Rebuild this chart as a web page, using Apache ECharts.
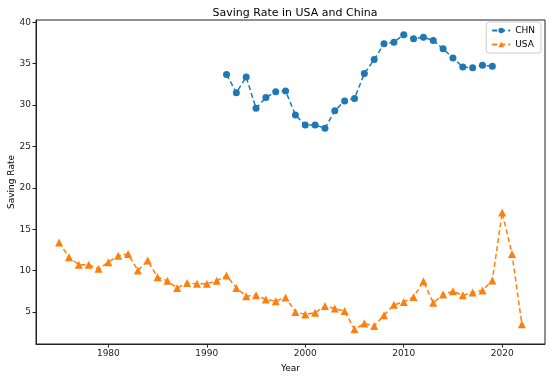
<!DOCTYPE html>
<html><head><meta charset="utf-8">
<script src="https://cdn.jsdelivr.net/npm/echarts@6/dist/echarts.min.js"></script>
<style>html,body{margin:0;padding:0;background:#fff}#c{width:550px;height:376px}</style>
</head><body><div id="c"></div>
<script>
const chnYears = [1992,1993,1994,1995,1996,1997,1998,1999,2000,2001,2002,2003,2004,2005,2006,2007,2008,2009,2010,2011,2012,2013,2014,2015,2016,2017,2018,2019];
const chnValues = [33.7,31.5,33.4,29.6,30.9,31.6,31.7,28.8,27.6,27.6,27.2,29.3,30.5,30.8,33.8,35.5,37.4,37.6,38.5,38.0,38.2,37.8,36.8,35.7,34.6,34.5,34.8,34.7];
const usaYears = [1975,1976,1977,1978,1979,1980,1981,1982,1983,1984,1985,1986,1987,1988,1989,1990,1991,1992,1993,1994,1995,1996,1997,1998,1999,2000,2001,2002,2003,2004,2005,2006,2007,2008,2009,2010,2011,2012,2013,2014,2015,2016,2017,2018,2019,2020,2021,2022];
const usaValues = [13.4,11.6,10.7,10.7,10.2,11.0,11.8,12.0,10.0,11.2,9.2,8.75,7.9,8.5,8.4,8.4,8.75,9.4,7.9,6.9,7.0,6.5,6.3,6.75,5.0,4.7,4.9,5.7,5.4,5.1,2.9,3.6,3.3,4.6,5.85,6.2,6.8,8.7,6.1,7.1,7.5,7.0,7.35,7.6,8.8,17.0,12.0,3.5];
const xTicks = [1980,1990,2000,2010,2020];
const yTicks = [5,10,15,20,25,30,35,40];

const font = 'DejaVu Sans';
const chart = echarts.init(document.getElementById('c'), null, {renderer:'canvas'});
chart.setOption({
  animation:false,
  title:{text:'Saving Rate in USA and China', left:290, textAlign:'center', top:3,
    textStyle:{fontFamily:font, fontSize:11, fontWeight:'normal', color:'#000'}},
  grid:{left:36, right:5, top:20, bottom:32, outerBoundsMode:'none', containLabel:false,
    show:true, borderColor:'#222', borderWidth:1, backgroundColor:'transparent'},
  legend:{right:9, top:22, orient:'vertical', itemWidth:18, itemHeight:7, itemGap:5,
    borderColor:'#ccc', borderWidth:1, borderRadius:3, padding:[4,6,4,5],
    textStyle:{fontFamily:font, fontSize:9, color:'#000'},
    data:['CHN','USA']},
  xAxis:{type:'value', min:1972.65, max:2024.35, name:'Year', nameLocation:'middle', nameGap:20,
    nameTextStyle:{fontFamily:font, fontSize:9, color:'#000'},
    splitLine:{show:false},
    axisLine:{show:true, onZero:false, lineStyle:{color:'#222'}},
    axisTick:{show:true, length:3.5, customValues:xTicks, lineStyle:{color:'#222'}},
    axisLabel:{customValues:xTicks, fontFamily:font, fontSize:9, color:'#222', margin:5, formatter:v=>String(v)}},
  yAxis:{type:'value', min:1.12, max:40.28, name:'Saving Rate', nameLocation:'middle', nameGap:20, nameRotate:90,
    nameMoveOverlap:false,
    nameTextStyle:{fontFamily:font, fontSize:9, color:'#000'},
    splitLine:{show:false},
    axisLine:{show:true, lineStyle:{color:'#222'}},
    axisTick:{show:true, length:3.5, customValues:yTicks, lineStyle:{color:'#222'}},
    axisLabel:{customValues:yTicks, fontFamily:font, fontSize:9, color:'#222', margin:5, formatter:v=>String(v)}},
  series:[
    {name:'CHN', type:'line', data:chnYears.map((y,i)=>[y,chnValues[i]]),
      symbol:'circle', symbolSize:7, showAllSymbol:true,
      lineStyle:{color:'#1f77b4', width:1.5, type:[5,3]},
      itemStyle:{color:'#1f77b4', borderWidth:0}},
    {name:'USA', type:'line', data:usaYears.map((y,i)=>[y,usaValues[i]]),
      symbol:'triangle', symbolSize:8, showAllSymbol:true,
      lineStyle:{color:'#ff7f0e', width:1.5, type:[5,3]},
      itemStyle:{color:'#ff7f0e', borderWidth:0}}
  ]
});
</script></body></html>
